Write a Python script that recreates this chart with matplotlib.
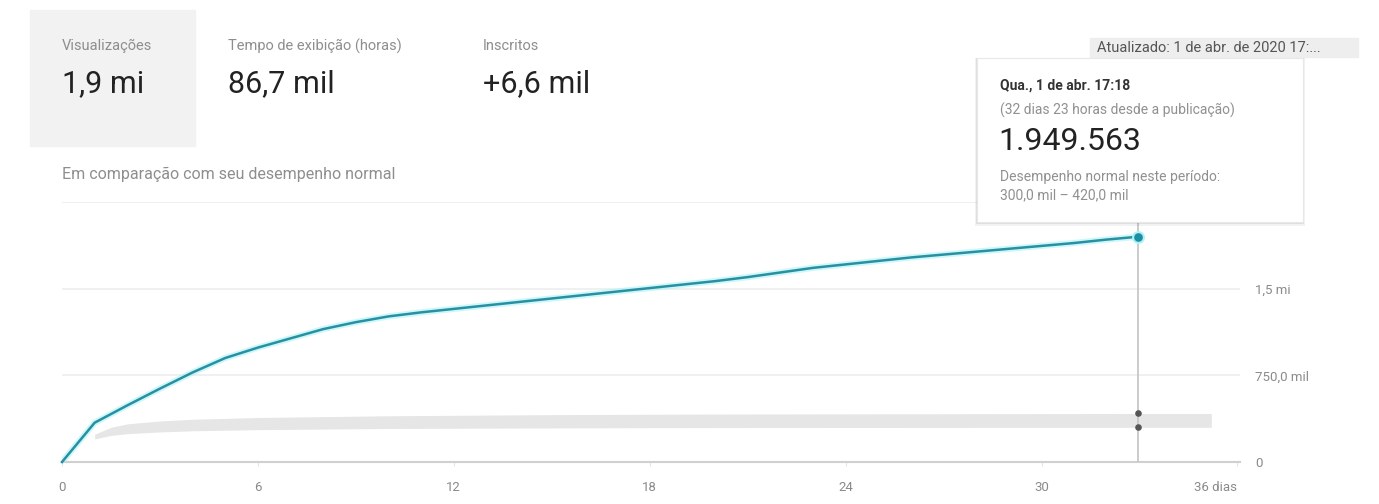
#Recreate the YouTube Studio "views since publication" card

#import the libraries
import numpy as np
import matplotlib.pyplot as plt
from matplotlib.patches import Rectangle

plt.rcParams['font.family'] = ['Roboto', 'DejaVu Sans']

#store the data (views in millions)
days = [0, 1, 2, 3, 4, 5, 6, 7, 8, 9, 10, 11, 12, 13, 14, 15, 16, 17, 18, 19, 20,
        21, 22, 23, 24, 25, 26, 27, 28, 29, 30, 31, 32, 32.96]
views = [0, 0.34, 0.49, 0.635, 0.775, 0.90, 0.99, 1.07, 1.15, 1.21, 1.26, 1.295, 1.325,
         1.355, 1.385, 1.415, 1.445, 1.475, 1.505, 1.535, 1.565, 1.60, 1.64, 1.68, 1.71,
         1.74, 1.77, 1.795, 1.82, 1.845, 1.87, 1.895, 1.925, 1.949563]

#normal performance band
band_days = [1, 1.5, 2, 3, 4, 6, 10, 15, 20, 33, 35.2]
band_low = [0.20, 0.23, 0.245, 0.26, 0.27, 0.28, 0.29, 0.295, 0.298, 0.30, 0.30]
band_high = [0.24, 0.30, 0.33, 0.355, 0.37, 0.385, 0.40, 0.41, 0.415, 0.42, 0.42]

hover_day = 32.96
hover_value = 1.949563
hover_range = [0.30, 0.42]

x_ticks = [0, 6, 12, 18, 24, 30, 36]
x_labels = ['0', '6', '12', '18', '24', '30', '36 dias']
y_ticks = [0, 0.75, 1.5, 2.25]
y_labels = ['0', '750,0 mil', '1,5 mi', '2,25 mi']

metric_names = ['Visualizações', 'Tempo de exibição (horas)', 'Inscritos']
metric_values = ['1,9 mi', '86,7 mil', '+6,6 mil']
metric_x = [62, 228, 483]

W, H = 1379, 504
def fx(x):
    return x / W
def fy(y):
    return 1 - y / H

fig = plt.figure(figsize=(W / 100, H / 100), dpi=100)

#chart area
ax = fig.add_axes([fx(62), 42 / H, (1240 - 62) / W, 260 / H])
ax.set_xlim(0, 1178 / 32.65)
ax.set_ylim(0, 2.25)

ax.fill_between(band_days, band_low, band_high, color='#e6e6e6', lw=0, zorder=2)
ax.plot(days, views, color='#9ef0f5', lw=4.5, alpha=0.5, zorder=3, solid_capstyle='round')
ax.plot(days, views, color='#2790a2', lw=1.8, zorder=4, clip_on=False)

ax.axvline(hover_day, color='#c4c4c4', lw=1.2, zorder=3)
ax.scatter([hover_day], [hover_value], s=60, color='#1d8fa3', zorder=5, clip_on=False,
           edgecolors='#aef2f6', linewidths=1.5)
ax.scatter([hover_day, hover_day], hover_range, s=14, color='#555555', zorder=5)

for s in ['top', 'left', 'right']:
    ax.spines[s].set_visible(False)
ax.spines['bottom'].set_color('#d0d0d0')
ax.spines['bottom'].set_linewidth(1.5)

ax.yaxis.tick_right()
ax.set_yticks(y_ticks)
ax.set_yticklabels(y_labels)
ax.tick_params(axis='y', length=0, pad=11, labelsize=9.5, labelcolor='#8a8a8a')
ax.grid(axis='y', color='#eeeeee', lw=1.2)
ax.set_axisbelow(True)

ax.set_xticks(x_ticks)
ax.set_xticklabels(x_labels)
ax.tick_params(axis='x', length=3, color='#e4e4e4', pad=11, labelsize=9.5, labelcolor='#8a8a8a')
ax.get_xticklabels()[-1].set_ha('right')
ax.get_xticklabels()[-1].set_x(36.1)

#header metrics
fig.patches.append(Rectangle((fx(30), fy(146)), (195 - 30) / W, (146 - 10) / H,
                             transform=fig.transFigure, color='#f2f2f2', zorder=0))
for name, val, x in zip(metric_names, metric_values, metric_x):
    fig.text(fx(x), fy(46), name, fontsize=10.5, color='#8e8e8e', va='center')
    fig.text(fx(x), fy(84), val, fontsize=22, color='#222222', va='center')

fig.text(fx(62), fy(174), 'Em comparação com seu desempenho normal', fontsize=11.5,
         color='#8e8e8e', va='center')

#updated label
fig.patches.append(Rectangle((fx(1090), fy(57)), (1358 - 1090) / W, 19 / H,
                             transform=fig.transFigure, color='#eeeeee', zorder=1))
fig.text(fx(1097), fy(48), 'Atualizado: 1 de abr. de 2020 17:...', fontsize=10.5,
         color='#555555', va='center', zorder=3)

#tooltip with a soft shadow
for off, a in [(4, 0.05), (2, 0.08)]:
    fig.patches.append(Rectangle((fx(977 - off / 2), fy(222 + off)), (326 + off) / W, (164 + off) / H,
                                 transform=fig.transFigure, color='black', alpha=a, lw=0, zorder=2))
fig.patches.append(Rectangle((fx(977), fy(222)), 326 / W, 164 / H,
                             transform=fig.transFigure, facecolor='white', edgecolor='#e8e8e8',
                             lw=0.8, zorder=2))
fig.text(fx(1000), fy(86), 'Qua., 1 de abr. 17:18', fontsize=10, fontweight='bold',
         color='#333333', va='center', zorder=4)
fig.text(fx(1000), fy(110), '(32 dias 23 horas desde a publicação)', fontsize=10,
         color='#909090', va='center', zorder=4)
fig.text(fx(998), fy(141), '1.949.563', fontsize=23, color='#222222', va='center', zorder=4)
fig.text(fx(1000), fy(177), 'Desempenho normal neste período:', fontsize=10,
         color='#909090', va='center', zorder=4)
fig.text(fx(1000), fy(195), '300,0 mil – 420,0 mil', fontsize=10,
         color='#909090', va='center', zorder=4)

plt.savefig('out.png', dpi=100)
